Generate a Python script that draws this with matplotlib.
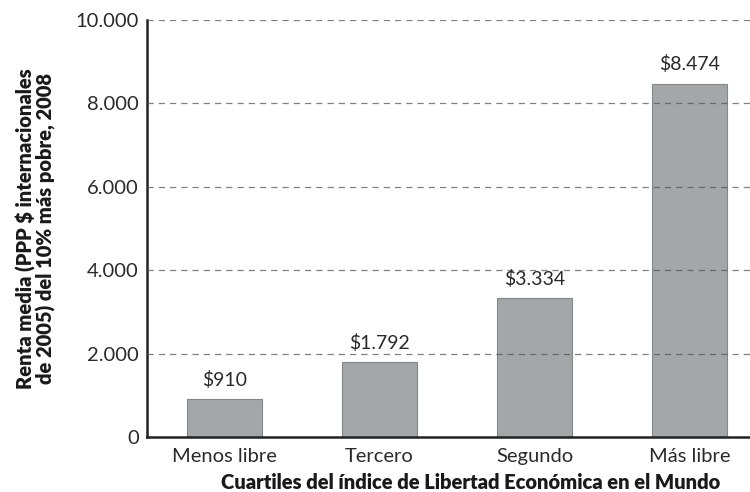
import matplotlib
matplotlib.use("Agg")
import matplotlib.pyplot as plt

categories = ["Menos libre", "Tercero", "Segundo", "Más libre"]
values = [910, 1792, 3334, 8474]
labels = ["$910", "$1.792", "$3.334", "$8.474"]
yticks = [0, 2000, 4000, 6000, 8000, 10000]
ytick_labels = ["0", "2.000", "4.000", "6.000", "8.000", "10.000"]

plt.rcParams['font.family'] = ['Lato', 'DejaVu Sans']

fig = plt.figure(figsize=(7.5, 4.92), dpi=100)
ax = fig.add_axes([147/750, 1-437/492, 603/750, 417/492])

x = list(range(len(categories)))
ax.bar(x, values, width=0.48, color="#a4a7aa", edgecolor="#84878a", linewidth=0.8, zorder=2)
for yv in yticks[1:]:
    ax.axhline(yv, color="#555555", linestyle=(0, (5, 4)), linewidth=0.9, alpha=0.75, zorder=3)

txtc = "#2a2a2a"
for xi, v, lab in zip(x, values, labels):
    ax.text(xi, v + 250, lab, ha="center", va="bottom", fontsize=14, fontweight="normal", color=txtc)

ax.set_xlim(-0.5, 3.39)
ax.set_ylim(0, 10000)
ax.set_xticks(x)
ax.set_xticklabels(categories, fontsize=14.5, fontweight="normal")
ax.set_yticks(yticks)
ax.set_yticklabels(ytick_labels, fontsize=14.5, fontweight="normal")
ax.tick_params(axis="x", length=0, pad=8, colors=txtc)
ax.tick_params(axis="y", length=0, pad=6, colors=txtc)
for s in ["top", "right"]:
    ax.spines[s].set_visible(False)
for s in ["left", "bottom"]:
    ax.spines[s].set_linewidth(1.8)
    ax.spines[s].set_color("#222222")

ax.set_xlabel("Cuartiles del índice de Libertad Económica en el Mundo", fontsize=14.5, fontweight="heavy", color="#1a1a1a")
ax.xaxis.set_label_coords(0.536, -0.087)
ax.set_ylabel("Renta media (PPP $ internacionales\nde 2005) del 10% más pobre, 2008", fontsize=14.5, fontweight="heavy", labelpad=14, linespacing=1.0, color="#1a1a1a")

fig.savefig("out.png", dpi=100)
